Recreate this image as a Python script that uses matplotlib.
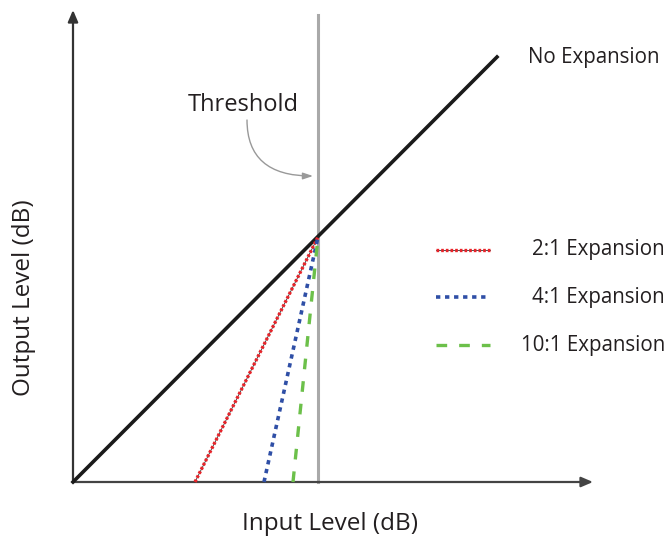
import matplotlib.pyplot as plt

# expansion curve data (arbitrary dB units, origin at bottom left)
threshold = 245
no_exp_x = [0, 424]
no_exp_y = [0, 425]
ratio_labels = ['2:1 Expansion', '4:1 Expansion', '10:1 Expansion']
ratio_start_x = [122, 191, 220]   # where each curve meets the input axis
ratio_colors = ['#e8242a', '#2f4fa6', '#6cc04a']

plt.rcParams['font.family'] = ['Open Sans', 'DejaVu Sans']
txt = '#231f20'

fig = plt.figure(figsize=(6.7, 5.4), dpi=100)
ax = fig.add_axes([0, 0, 1, 1])
ax.set_xlim(-73, 597)
ax.set_ylim(-58, 482)
ax.axis('off')

# axes with arrow heads
ax.annotate('', xy=(520, 0), xytext=(0, 0),
            arrowprops=dict(arrowstyle='-|>,head_length=0.7,head_width=0.3',
                            color='#444444', lw=1.6, shrinkA=0, shrinkB=0))
ax.annotate('', xy=(0, 472), xytext=(0, 0),
            arrowprops=dict(arrowstyle='-|>,head_length=0.7,head_width=0.3',
                            color='#333333', lw=1.6, shrinkA=0, shrinkB=0))

# threshold line
ax.plot([threshold, threshold], [0, 467], color='#a9a9a9', lw=2.2, zorder=2)

# no expansion
ax.plot(no_exp_x, no_exp_y, color='#1a1a1a', lw=2.6, zorder=3)

# expansion curves
styles = [dict(lw=2.4, dashes=(0.8, 0.6)),
          dict(lw=2.6, dashes=(1.2, 1.3)),
          dict(lw=2.4, dashes=(3.2, 3.6))]
for sx, col, st in zip(ratio_start_x, ratio_colors, styles):
    if col == ratio_colors[0]:
        ax.plot([sx, threshold], [0, threshold], color='#333333', lw=0.6, zorder=4)
    ax.plot([sx, threshold], [0, threshold], color=col, zorder=5, **st)

# legend
leg_y = [232, 185, 137]
for lab, col, st, y in zip(ratio_labels, ratio_colors, styles, leg_y):
    if col == ratio_colors[0]:
        ax.plot([363, 417], [y, y], color='#333333', lw=0.6)
    ax.plot([363, 417], [y, y], color=col, **st)
    ax.text(592, y, lab, ha='right', va='center', fontsize=14.8, color=txt)

ax.text(455, 425, 'No Expansion', ha='left', va='center', fontsize=14.8, color=txt)

# threshold label with curved arrow
ax.text(170, 377, 'Threshold', ha='center', va='center', fontsize=17, color=txt)
ax.annotate('', xy=(240, 306), xytext=(174, 362),
            arrowprops=dict(arrowstyle='-|>,head_length=0.6,head_width=0.2',
                            color='#999999', lw=1.0, shrinkA=0, shrinkB=0,
                            connectionstyle='angle3,angleA=90,angleB=0'))

ax.text(-49, 184, 'Output Level (dB)', rotation=90, ha='center', va='center',
        fontsize=17.5, color=txt)
ax.text(257, -42, 'Input Level (dB)', ha='center', va='center',
        fontsize=17.5, color=txt)

fig.savefig('out.png', dpi=100)
